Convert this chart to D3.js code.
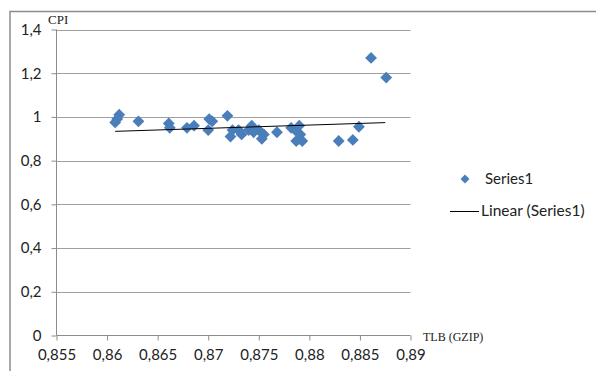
<!DOCTYPE html>
<html>
<head>
<meta charset="utf-8">
<script src="https://cdn.jsdelivr.net/npm/d3@7"></script>
<style>
html,body{margin:0;padding:0;background:#fff;}
svg{display:block;}
</style>
</head>
<body>
<script>
// ---- data ----
const xValues = [0.8608,0.8610,0.8612,0.8631,0.8661,0.8662,0.8679,0.8686,0.8700,0.8701,0.8704,0.8719,
  0.8722,0.8724,0.8730,0.8733,0.8740,0.8743,0.8745,0.8750,0.8753,0.8755,0.8768,0.8782,0.8786,0.8790,
  0.8791,0.8790,0.8787,0.8793,0.8829,0.8843,0.8849,0.8861,0.8876];
const yValues = [0.975,0.99,1.01,0.98,0.97,0.95,0.95,0.96,0.94,0.99,0.98,1.005,
  0.91,0.94,0.94,0.92,0.94,0.96,0.93,0.94,0.90,0.92,0.93,0.95,0.94,0.96,
  0.92,0.90,0.89,0.89,0.89,0.895,0.955,1.27,1.18];
const trendX = [0.8608, 0.8875];
const trendY = [0.934, 0.974];
const xTicks = [0.855,0.86,0.865,0.87,0.875,0.88,0.885,0.89];
const yTicks = [0,0.2,0.4,0.6,0.8,1,1.2,1.4];
const seriesName = "Series1";
const trendName = "Linear (Series1)";
const xTitle = "TLB (GZIP)";
const yTitle = "CPI";

const W = 600, H = 371;
const svg = d3.select("body").append("svg").attr("width", W).attr("height", H);
const sans = "Lato, 'Open Sans', sans-serif";
const serif = "'Liberation Serif', 'DejaVu Serif', serif";

// outer chart border
svg.append("path").attr("d", "M10,371 L10,11.5 L596,11.5")
  .attr("fill","none").attr("stroke","#8c8c8c").attr("stroke-width",1.5);

const x = d3.scaleLinear().domain([0.855, 0.89]).range([56.5, 410.5]);
const y = d3.scaleLinear().domain([0, 1.4]).range([335.5, 29.5]);
const fmt = d => String(d).replace(".", ",");

// gridlines
svg.append("g").selectAll("line").data(yTicks.filter(d => d > 0)).join("line")
  .attr("x1", x(0.855)).attr("x2", x(0.89))
  .attr("y1", d => Math.round(y(d)) + 0.5).attr("y2", d => Math.round(y(d)) + 0.5)
  .attr("stroke", "#a0a0a0").attr("stroke-width", 1);

// y axis
const yAxis = svg.append("g").attr("transform", `translate(${x(0.855)},0)`)
  .call(d3.axisLeft(y).tickValues(yTicks).tickFormat(fmt).tickSize(5).tickPadding(10));
// x axis
const xAxis = svg.append("g").attr("transform", `translate(0,${y(0)})`)
  .call(d3.axisBottom(x).tickValues(xTicks).tickFormat(fmt).tickSize(5).tickPadding(9));
[yAxis, xAxis].forEach(g => {
  g.select(".domain").attr("stroke", "#8c8c8c");
  g.selectAll(".tick line").attr("stroke", "#8c8c8c");
  g.selectAll("text").attr("font-family", sans).attr("font-size", 15).attr("fill", "#222");
});
yAxis.select(".domain").attr("d", `M0,${y(1.4)}V${y(0)}`);
xAxis.select(".domain").attr("d", `M${x(0.855)},0H${x(0.89)}`);

// axis titles
svg.append("text").attr("x", 48).attr("y", 24).text(yTitle)
  .attr("font-family", serif).attr("font-size", 13).attr("fill", "#222");
svg.append("text").attr("x", 423).attr("y", 341).text(xTitle)
  .attr("font-family", serif).attr("font-size", 12).attr("fill", "#222");

// points
const pts = xValues.map((v, i) => [v, yValues[i]]);
const diamond = d3.symbol().type(d3.symbolSquare).size(70);
svg.append("g").selectAll("path").data(pts).join("path")
  .attr("d", diamond)
  .attr("transform", d => `translate(${x(d[0])},${y(d[1])}) rotate(45)`)
  .attr("fill", "#4a7ebb");

// trendline
svg.append("line")
  .attr("x1", x(trendX[0])).attr("y1", y(trendY[0]))
  .attr("x2", x(trendX[1])).attr("y2", y(trendY[1]))
  .attr("stroke", "#000").attr("stroke-width", 1);

// legend
const lg = svg.append("g");
lg.append("path").attr("d", d3.symbol().type(d3.symbolSquare).size(40))
  .attr("transform", "translate(465,179) rotate(45)").attr("fill", "#4a7ebb");
lg.append("text").attr("x", 485).attr("y", 179).attr("dy", "0.35em").text(seriesName)
  .attr("font-family", sans).attr("font-size", 15).attr("fill", "#222");
lg.append("line").attr("x1", 450).attr("x2", 479).attr("y1", 211.5).attr("y2", 211.5)
  .attr("stroke", "#000").attr("stroke-width", 1);
lg.append("text").attr("x", 481).attr("y", 211).attr("dy", "0.35em").text(trendName)
  .attr("font-family", sans).attr("font-size", 15.5).attr("fill", "#222");
</script>
</body>
</html>
